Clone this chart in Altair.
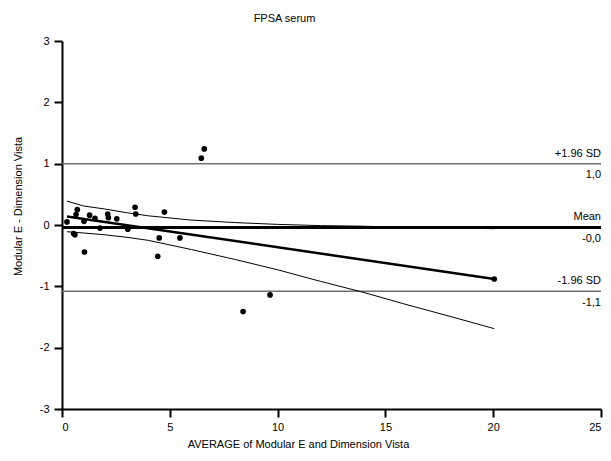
import altair as alt
import pandas as pd

# ---- data ----
avg_x = [0.23, 0.54, 0.60, 0.65, 0.71, 1.02, 1.04, 1.28, 1.53, 1.76, 2.12, 2.15,
         2.54, 3.05, 3.39, 3.42, 4.44, 4.51, 4.75, 5.47, 6.46, 6.60, 8.40, 9.65, 20.05]
diff_y = [0.05, -0.14, -0.16, 0.17, 0.25, 0.06, -0.44, 0.16, 0.11, -0.05, 0.18, 0.12,
          0.10, -0.07, 0.29, 0.18, -0.51, -0.21, 0.21, -0.21, 1.09, 1.24, -1.41, -1.14, -0.88]

reg_x = [0.23, 20.05]
reg_y = [0.14, -0.88]

band_x = [0.23, 1.0, 2.0, 3.0, 4.0, 6.0, 8.0, 10.0, 12.0, 14.0, 16.0, 18.0, 20.05]
band_upper = [0.39, 0.31, 0.26, 0.20, 0.15, 0.08, 0.04, 0.01, -0.01, -0.02, -0.04, -0.05, -0.06]
band_lower = [-0.11, -0.13, -0.16, -0.20, -0.25, -0.40, -0.56, -0.73, -0.92, -1.10, -1.30, -1.49, -1.69]

ref_names = ["+1.96 SD", "Mean", "-1.96 SD"]
ref_values = [1.00, -0.04, -1.08]
ref_value_labels = ["1,0", "-0,0", "-1,1"]
ref_colors = ["#707070", "#000000", "#707070"]
ref_widths = [1.5, 3.0, 1.5]

x_ticks = [0, 5, 10, 15, 20, 25]
y_ticks = [-3, -2, -1, 0, 1, 2, 3]
x_title = "AVERAGE of Modular E and Dimension Vista"
y_title = "Modular E - Dimension Vista"
chart_title = "FPSA serum"

FONT = "Liberation Sans"

pts = pd.DataFrame({"x": avg_x, "y": diff_y})
reg = pd.DataFrame({"x": reg_x, "y": reg_y})
band = pd.DataFrame({
    "x": band_x * 2,
    "y": band_upper + band_lower,
    "side": ["upper"] * len(band_x) + ["lower"] * len(band_x),
})
refs = pd.DataFrame({
    "name": ref_names, "y": ref_values, "lab": ref_value_labels,
    "color": ref_colors, "w": ref_widths,
    "x0": [0] * 3, "x1": [25] * 3,
})

xscale = alt.Scale(domain=[0, 25], nice=False, zero=False)
yscale = alt.Scale(domain=[-3, 3], nice=False, zero=False)


def X(field="x"):
    return alt.X(f"{field}:Q", scale=xscale,
                 axis=alt.Axis(values=x_ticks, labelExpr="datum.value + ''",
                               title=x_title, titlePadding=6,
                               titleX=236, titleAlign="center"))


def Y(field="y"):
    return alt.Y(f"{field}:Q", scale=yscale,
                 axis=alt.Axis(values=y_ticks, labelExpr="datum.value + ''",
                               title=y_title, titlePadding=16,
                               titleY=165, titleAlign="center"))


ref_lines = alt.Chart(refs).mark_rule().encode(
    x=X("x0"), x2="x1:Q", y=Y(),
    color=alt.Color("color:N", scale=None),
    strokeWidth=alt.StrokeWidth("w:Q", scale=None),
)

band_lines = alt.Chart(band).mark_line(color="black", strokeWidth=1).encode(
    x=X(), y=Y(), detail="side:N"
)

reg_line = alt.Chart(reg).mark_line(color="black", strokeWidth=2.5).encode(
    x=X(), y=Y()
)

points = alt.Chart(pts).mark_circle(color="black", opacity=1, size=32).encode(
    x=X(), y=Y()
)

name_text = alt.Chart(refs).mark_text(
    align="right", baseline="middle", dy=-10, font=FONT, fontSize=11, color="black"
).encode(x=alt.X("x1:Q", scale=xscale), y=alt.Y("y:Q", scale=yscale), text="name:N")

val_text = alt.Chart(refs).mark_text(
    align="right", baseline="middle", dy=11.5, font=FONT, fontSize=11, color="black"
).encode(x=alt.X("x1:Q", scale=xscale), y=alt.Y("y:Q", scale=yscale), text="lab:N")

chart = alt.layer(ref_lines, band_lines, reg_line, points, name_text, val_text).properties(
    width=539, height=368,
    title=alt.TitleParams(chart_title, font=FONT, fontSize=11, fontWeight="normal",
                          anchor="middle", dx=-47, offset=11, color="black"),
    autosize=alt.AutoSizeParams(type="none"),
    padding={"left": 54, "top": 33, "right": 2, "bottom": 44},
).configure_view(stroke=None).configure_axis(
    grid=False, domainColor="black", domainWidth=2, tickColor="black", tickWidth=2,
    tickSize=8, labelFont=FONT, labelFontSize=11, labelColor="black",
    titleFont=FONT, titleFontSize=11, titleFontWeight="normal", titleColor="black",
    labelPadding=4,
).configure_axisY(labelPadding=5)

chart.save("out.html", embed_options={"renderer": "svg", "actions": False})
